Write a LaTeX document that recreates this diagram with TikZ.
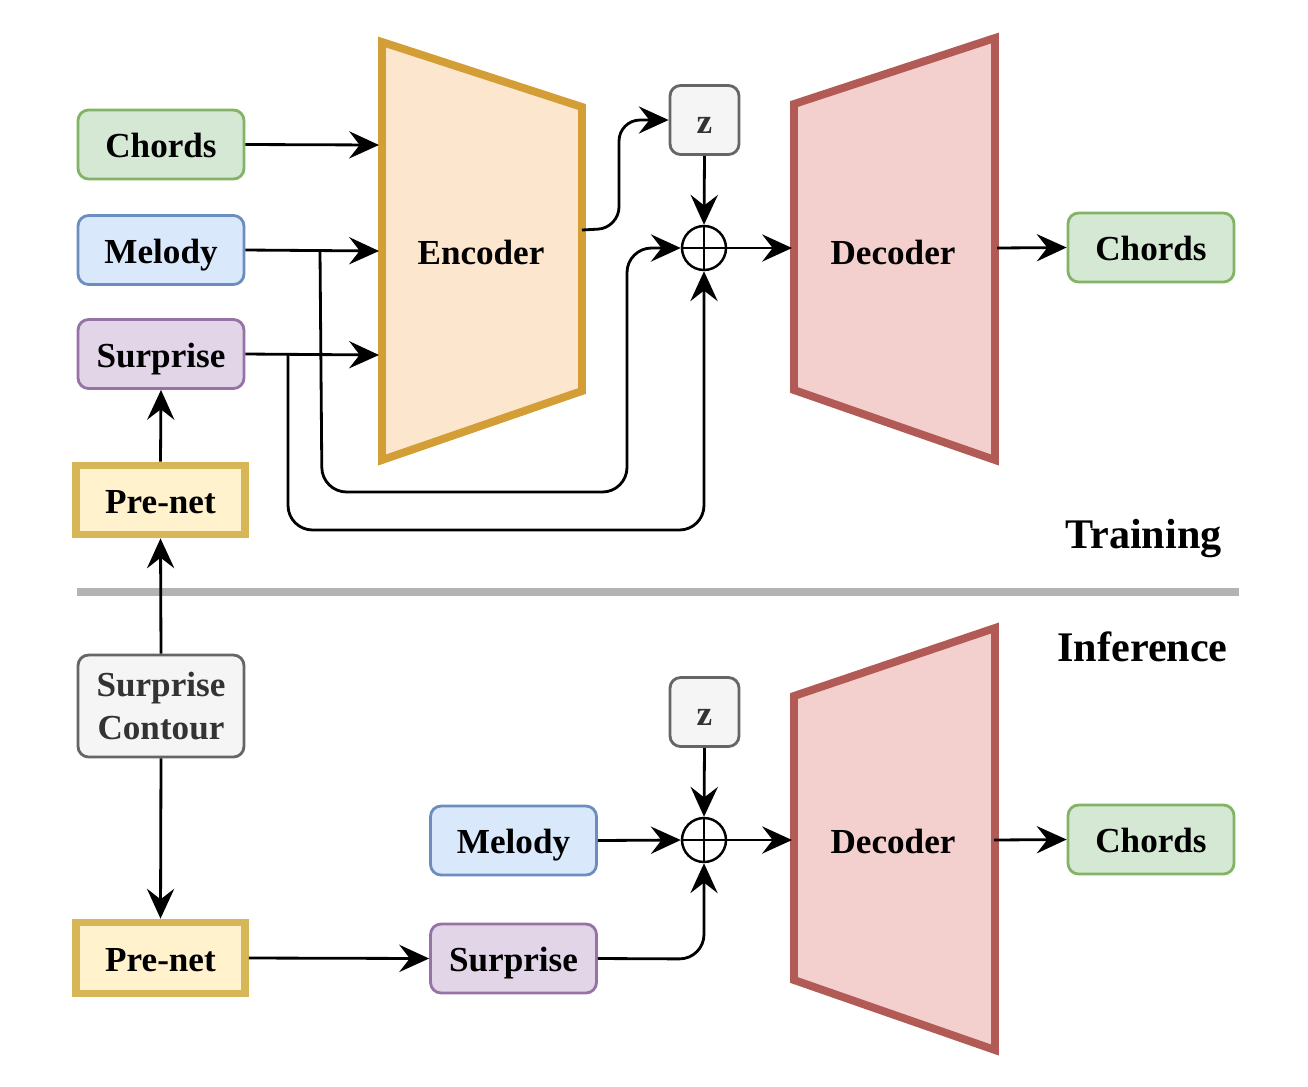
\documentclass[tikz,border=0pt]{standalone}
\usepackage{fontspec}
\setmainfont{Liberation Serif}
\usetikzlibrary{arrows.meta,calc}
\definecolor{gfill}{HTML}{D5E8D4}\definecolor{gline}{HTML}{82B366}
\definecolor{bfill}{HTML}{DAE8FC}\definecolor{bline}{HTML}{6C8EBF}
\definecolor{pfill}{HTML}{E1D5E7}\definecolor{pline}{HTML}{9673A6}
\definecolor{kfill}{HTML}{F5F5F5}\definecolor{kline}{HTML}{666666}\definecolor{ktext}{HTML}{333333}
\definecolor{yfill}{HTML}{FFF2CC}\definecolor{yline}{HTML}{D6B656}
\definecolor{ofill}{HTML}{FCE6CD}\definecolor{oline}{HTML}{D39E36}
\definecolor{rfill}{HTML}{F3CFCD}\definecolor{rline}{HTML}{B25A55}
\definecolor{sepcol}{HTML}{B3B3B3}
\begin{document}
\begin{tikzpicture}[x=0.02cm,y=-0.02cm,
  font=\fontsize{20}{23}\selectfont\bfseries,
  txt/.style={text height=19pt, text depth=4.2pt},
  box/.style={draw, rounded corners=6pt, line width=1.6pt, minimum width=3.32cm, minimum height=1.38cm, inner sep=0pt, align=center},
  onebox/.style={box, txt},
  green/.style={onebox, fill=gfill, draw=gline},
  blue/.style={onebox, fill=bfill, draw=bline},
  purple/.style={onebox, fill=pfill, draw=pline},
  gray/.style={box, fill=kfill, draw=kline, text=ktext},
  zbox/.style={gray, txt, minimum width=1.38cm, minimum height=1.38cm},
  prenet/.style={draw=yline, fill=yfill, line width=4.4pt, minimum width=3.38cm, minimum height=1.38cm, inner sep=0pt, txt},
  trap/.style={line width=4.5pt, line join=miter},
  conn/.style={line width=1.6pt, -{Stealth[length=17pt,width=15.5pt,inset=6pt]}},
  sum/.style={circle, draw, line width=1.4pt, minimum size=0.88cm, inner sep=0pt,
    path picture={\draw[line width=1.4pt] (path picture bounding box.north) -- (path picture bounding box.south) (path picture bounding box.west) -- (path picture bounding box.east);}},
  title/.style={font=\fontsize{24}{27}\selectfont\bfseries, inner sep=0pt, anchor=base east}
]
\useasboundingbox (0,0) rectangle (1308,1086);

% ---------- Training ----------
\draw[trap, draw=oline, fill=ofill] (382,42) -- (582,107) -- (582,391) -- (382,460) -- cycle;
\node[txt] (enc) at (481,251) {Encoder};
\draw[trap, draw=rline, fill=rfill] (794,104) -- (995,38) -- (995,460) -- (794,390) -- cycle;
\node[txt] (dec) at (893,251) {Decoder};

\node[green]  (chA) at (161,144.5) {Chords};
\node[blue]   (melA) at (161,250) {Melody};
\node[purple] (surA) at (161,354) {Surprise};
\node[prenet] (preA) at (160.5,500) {Pre-net};
\node[zbox]   (zA) at (704.5,120) {z};
\node[sum]    (sA) at (704,248) {};
\node[green]  (chOutA) at (1151,247.5) {Chords};
\node[title] (train) at (1222,548) {Training};

\coordinate (encIn1) at (379,145);
\coordinate (encIn2) at (379,251);
\coordinate (encIn3) at (379,355);
\coordinate (encOut) at (582,230);
\coordinate (decInA) at (792,248);
\coordinate (decOutA) at (997,248);
\coordinate (melBr) at (320,251);
\coordinate (surBr) at (288,354.5);

\draw[conn] (chA.east) -- (encIn1);
\draw[conn] (melA.east) -- (encIn2);
\draw[conn] (surA.east) -- (encIn3);
\draw[conn, rounded corners=14pt] (melBr) -- (322,492) -- (627,492) -- (627,248) -- (sA.west);
\draw[conn, rounded corners=14pt] (surBr) -- (288,530) -- (704,530) -- (sA.south);
\draw[conn, rounded corners=12pt] (encOut) -- (619,228) -- (619,120) -- (zA.west);
\draw[conn] (zA.south) -- (sA.north);
\draw[conn] (sA.east) -- (decInA);
\draw[conn] (decOutA) -- (chOutA.west);
\draw[conn] (preA.north) -- (surA.south);

% ---------- separator ----------
\coordinate (sepL) at (77,592);
\coordinate (sepR) at (1239,592);
\draw[sepcol, line width=4.5pt] (sepL) -- (sepR);

% ---------- Inference ----------
\node[title] (infer) at (1228,661) {Inference};
\draw[trap, draw=rline, fill=rfill] (794,696) -- (995,628) -- (995,1050) -- (794,980) -- cycle;
\node[txt] (decB) at (893,840) {Decoder};

\node[gray, minimum height=2.04cm, font=\fontsize{20}{24}\selectfont\bfseries] (cont) at (161,706) {Surprise\\Contour};
\node[prenet, minimum height=1.42cm] (preB) at (160.5,958) {Pre-net};
\node[blue]   (melB) at (513.5,840.5) {Melody};
\node[purple] (surB) at (513.5,958.5) {Surprise};
\node[zbox]   (zB) at (704.5,712) {z};
\node[sum]    (sB) at (704,840) {};
\node[green]  (chOutB) at (1151,839.5) {Chords};

\coordinate (decInB) at (792,840);
\coordinate (decOutB) at (994,840);

\draw[conn] (cont.north) -- (preA.south);
\draw[conn] (cont.south) -- (preB.north);
\draw[conn] (preB.east) -- (surB.west);
\draw[conn] (melB.east) -- (sB.west);
\draw[conn, rounded corners=14pt] (surB.east) -- (704,959) -- (sB.south);
\draw[conn] (zB.south) -- (sB.north);
\draw[conn] (sB.east) -- (decInB);
\draw[conn] (decOutB) -- (chOutB.west);
\end{tikzpicture}
\end{document}
